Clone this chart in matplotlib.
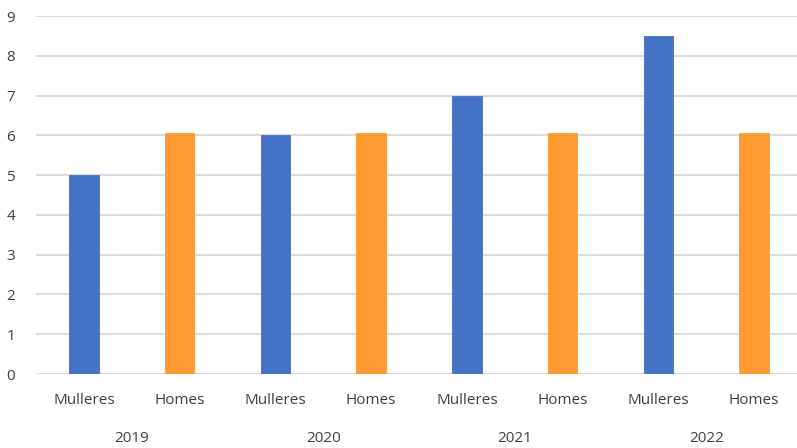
import matplotlib
matplotlib.use("Agg")
import matplotlib.pyplot as plt
import numpy as np

# datos
anos = ["2019", "2020", "2021", "2022"]
grupos = ["Mulleres", "Homes"]
mulleres = [5.0, 6.02, 7.0, 8.5]
homes = [6.05, 6.05, 6.05, 6.05]

azul = "#4472C4"
laranxa = "#FF9A33"
texto = "#404040"

plt.rcParams["font.family"] = ["Open Sans", "DejaVu Sans"]

fig = plt.figure(figsize=(7.97, 4.48), dpi=100)
ax = fig.add_axes([36 / 797, 74 / 448, 766 / 797, 358 / 448])

# posicions das barras: Mulleres, Homes alternando por ano
valores = []
cores = []
etiquetas = []
for m, h in zip(mulleres, homes):
    valores += [m, h]
    cores += [azul, laranxa]
    etiquetas += grupos
x = np.arange(len(valores))

ax.bar(x, valores, width=0.31, color=cores, edgecolor=cores,
       linewidth=0.6, zorder=3)

ax.set_xlim(-0.5, len(valores) - 0.5)
ax.set_ylim(0, 9)
ax.set_yticks(range(10))
ax.grid(axis="y", color="#d9d9d9", linewidth=1.3, zorder=0)
for s in ax.spines.values():
    s.set_visible(False)

ax.set_xticks(x)
ax.set_xticklabels(etiquetas)
ax.tick_params(axis="both", length=0, labelsize=11, colors=texto)
ax.tick_params(axis="x", pad=14)
ax.tick_params(axis="y", pad=15)

# etiquetas dos anos baixo de cada par
for i, ano in enumerate(anos):
    ax.text(2 * i + 0.5, -64 / 358, ano, transform=ax.get_xaxis_transform(),
            ha="center", va="center", fontsize=11, color=texto)

fig.savefig("out.png", dpi=100)
